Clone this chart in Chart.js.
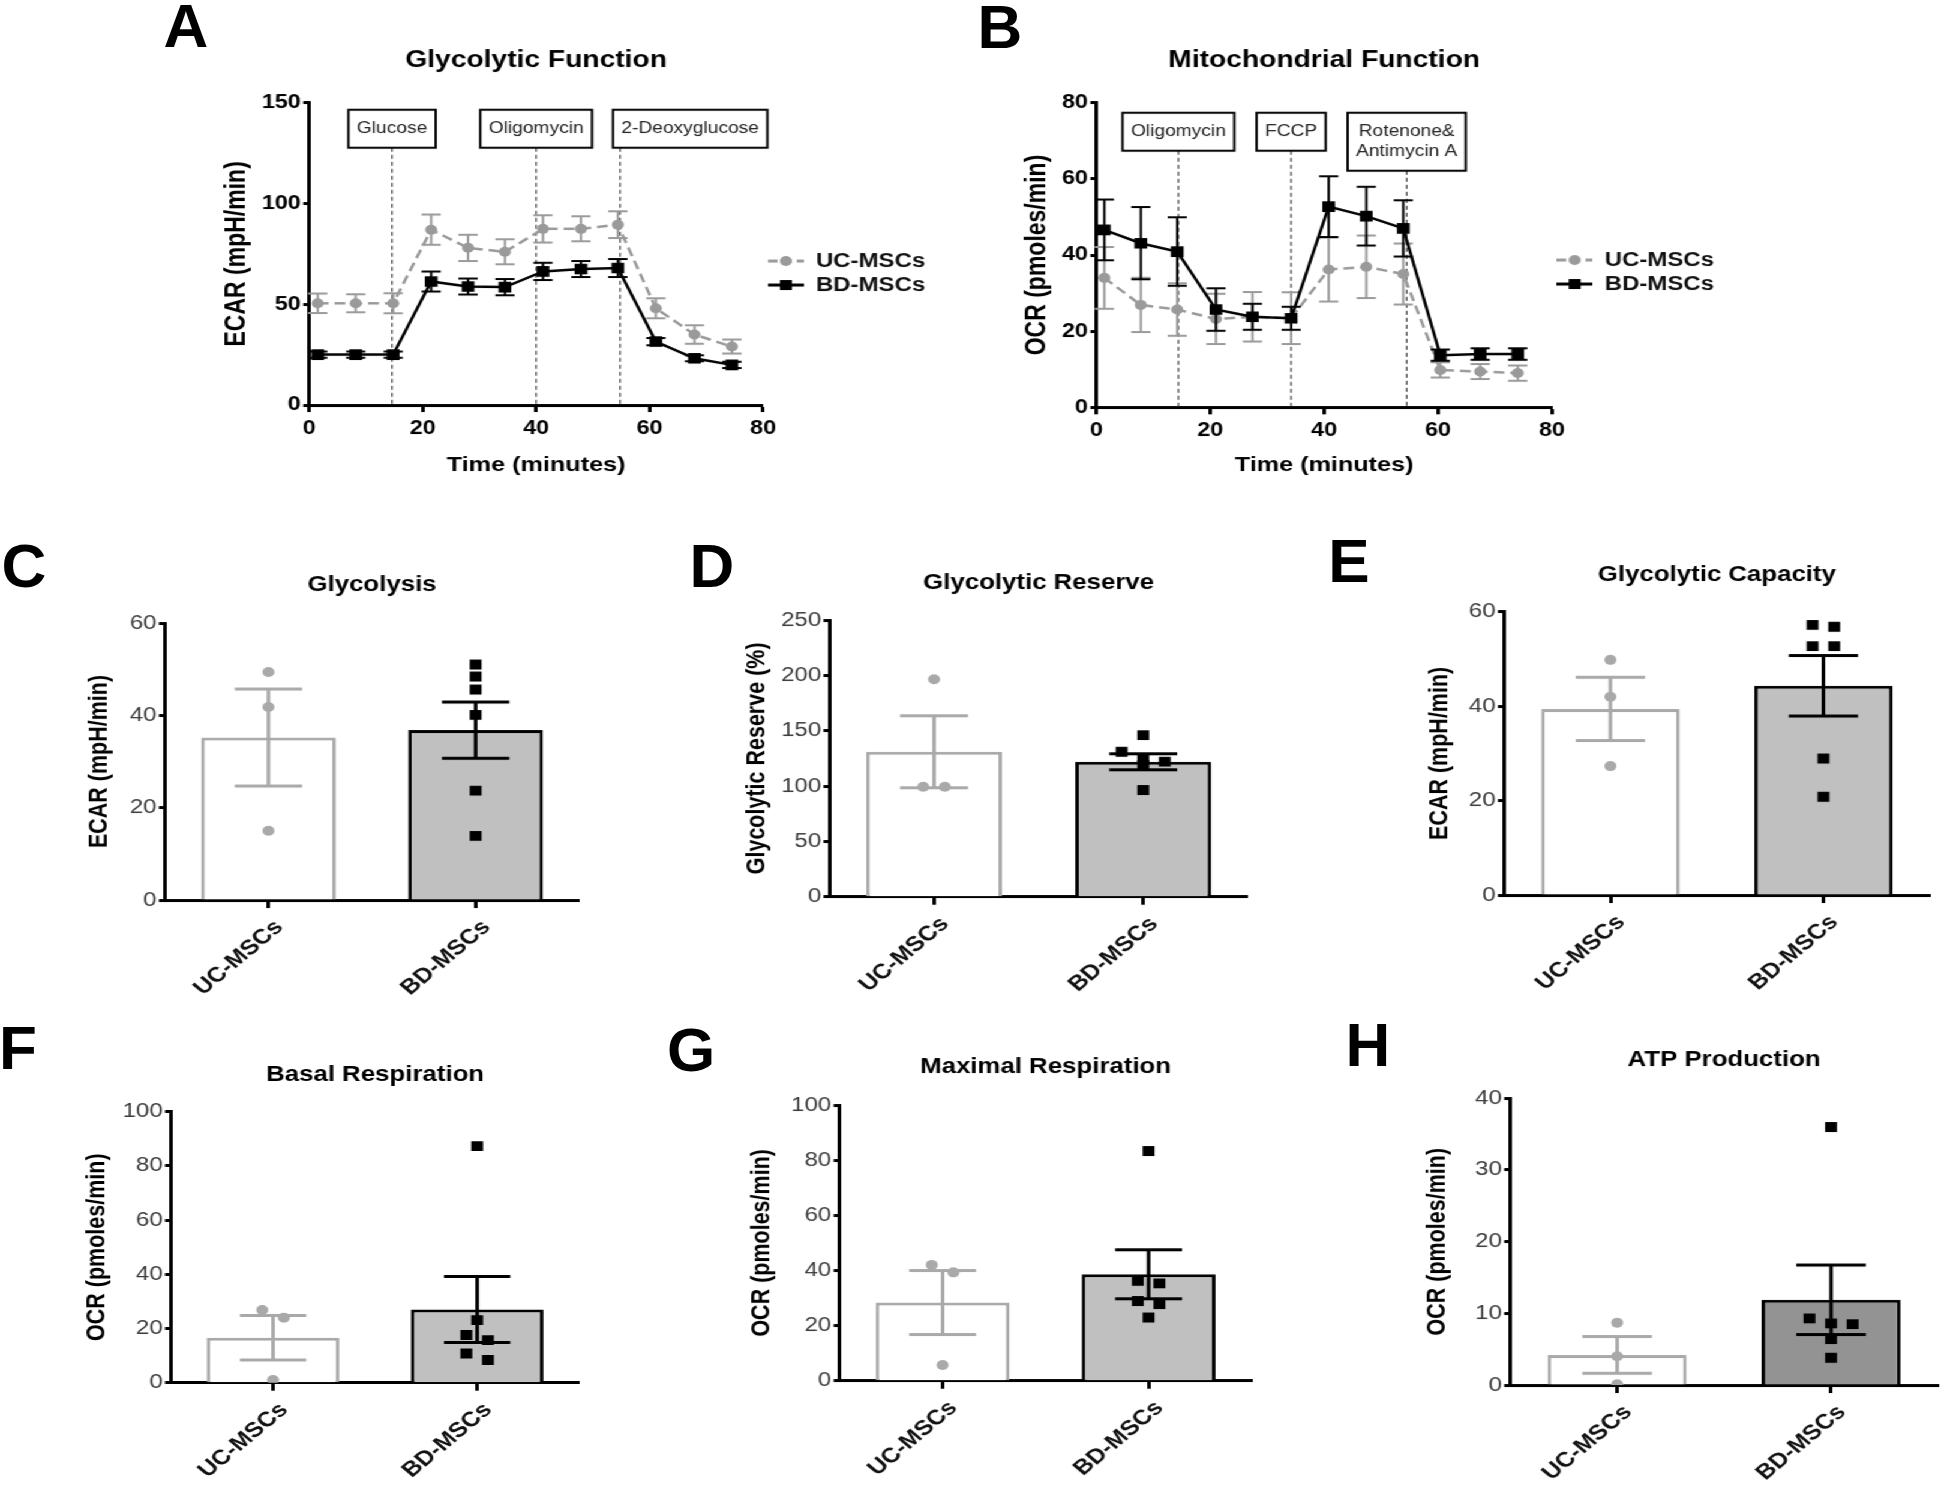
<!DOCTYPE html>
<html><head><meta charset="utf-8">
<script src="https://cdn.jsdelivr.net/npm/chart.js@4/dist/chart.umd.min.js"></script>
<style>
html,body{margin:0;padding:0;background:#fff;width:1948px;height:1494px;overflow:hidden;}
#stage{position:absolute;left:0;top:0;width:1624px;height:1494px;transform:scaleX(1.2);transform-origin:0 0;}
.letter{position:absolute;font:bold 62px "Liberation Sans",Arial,Helvetica,sans-serif;color:#000;line-height:1;transform:translate(-50%,-50%);}
</style></head><body><div id="stage"></div>
<script>
// ---------------- DATA ----------------
const categories = ['UC-MSCs', 'BD-MSCs'];
const seriesNames = ['UC-MSCs', 'BD-MSCs'];

// Panel A - Glycolytic Function (ECAR)
const timeA = [1.5, 8.2, 14.8, 21.5, 28.0, 34.5, 41.2, 47.9, 54.4, 61.1, 67.9, 74.5];
const ecarUC = [50.5, 50.5, 50.5, 87.0, 78.0, 76.0, 87.4, 87.4, 89.5, 48.0, 35.0, 29.0];
const ecarUCsem = [4.8, 4.5, 5.0, 7.5, 6.5, 6.2, 6.8, 6.2, 6.6, 5.0, 4.6, 3.5];
const ecarBD = [25.0, 25.0, 25.0, 61.3, 58.8, 58.5, 66.3, 67.5, 68.0, 31.5, 23.2, 19.9];
const ecarBDsem = [1.5, 1.5, 1.5, 5.0, 4.0, 4.0, 4.3, 4.0, 4.5, 1.8, 1.5, 1.5];
const injTimesA = [14.6, 40.0, 54.8];
const injLabelsA = ['Glucose', 'Oligomycin', '2-Deoxyglucose'];

// Panel B - Mitochondrial Function (OCR)
const timeB = [1.4, 7.8, 14.2, 21.0, 27.4, 34.2, 40.8, 47.4, 53.9, 60.4, 67.4, 74.0];
const ocrUC = [34.0, 26.9, 25.7, 23.2, 23.8, 23.4, 36.2, 36.9, 35.0, 9.8, 9.4, 9.0];
const ocrUCsem = [8.1, 7.1, 6.9, 6.6, 6.5, 6.8, 8.4, 8.2, 8.0, 2.0, 2.0, 2.0];
const ocrBD = [46.6, 43.1, 40.9, 25.7, 23.8, 23.4, 52.7, 50.2, 47.0, 13.7, 14.0, 14.0];
const ocrBDsem = [8.0, 9.5, 9.0, 5.6, 3.4, 3.0, 8.0, 7.7, 7.4, 1.5, 1.5, 1.5];
const injTimesB = [14.4, 34.2, 54.5];
const injLabelsB = ['Oligomycin', 'FCCP', ['Rotenone&', 'Antimycin A']];

// Panel C - Glycolysis
const glycolysisMean = [35.2, 36.8];
const glycolysisSem = [10.5, 6.1];
const glycolysisUC = [49.4, 41.8, 15.0];
const glycolysisBD = [51.0, 48.4, 45.6, 40.1, 23.7, 13.9];
// Panel D - Glycolytic Reserve
const reserveMean = [131, 122];
const reserveSem = [32.5, 7.2];
const reserveUC = [196.4, 99.4, 99.4];
const reserveBD = [146, 131, 124, 122, 119, 96.4];
// Panel E - Glycolytic Capacity
const capacityMean = [39.4, 44.3];
const capacitySem = [6.7, 6.4];
const capacityUC = [49.8, 42.0, 27.3];
const capacityBD = [57.2, 56.8, 52.7, 52.7, 28.9, 20.8];
// Panel F - Basal Respiration
const basalMean = [16.6, 27.0];
const basalSem = [8.2, 12.2];
const basalUC = [26.8, 24.0, 1.0];
const basalBD = [87.3, 23.1, 17.6, 15.7, 10.8, 8.4];
// Panel G - Maximal Respiration
const maximalMean = [28.4, 38.6];
const maximalSem = [11.6, 8.9];
const maximalUC = [42.0, 39.3, 5.7];
const maximalBD = [83.3, 36.2, 35.3, 28.9, 27.8, 22.9];
// Panel H - ATP Production
const atpMean = [4.2, 11.9];
const atpSem = [2.55, 4.85];
const atpUC = [8.7, 4.0, 0.1];
const atpBD = [36.0, 9.3, 8.6, 8.5, 6.4, 3.8];

// ---------------- LAYOUT ----------------
const S = 1.2; // the original figure is stretched horizontally
const FAM = '"Liberation Sans", Arial, Helvetica, sans-serif';
const stage = document.getElementById('stage');

const GEO = {
  A: {box:{x:190,y:20,w:790,h:470}, ca:{l:309.6,t:102.7,r:763.5,b:405}, titleY:61, titleFs:23.5, yTitleX:237, yTitleFs:23, xTitleY:465, xTitleFs:21, legendY:261},
  B: {box:{x:990,y:20,w:790,h:470}, ca:{l:1096.4,t:102.7,r:1551.9,b:407.3}, titleY:61, titleFs:23.5, yTitleX:1037, yTitleFs:23, xTitleY:465, xTitleFs:21, legendY:260},
  C: {box:{x:70,y:560,w:540,h:450}, ca:{l:165.3,t:623,r:579.6,b:900}, titleY:585, yTitleX:100},
  D: {box:{x:725,y:555,w:545,h:455}, ca:{l:829.7,t:620,r:1248,b:896.7}, titleY:583, yTitleX:758},
  E: {box:{x:1405,y:545,w:540,h:465}, ca:{l:1503.7,t:611.7,r:1929.7,b:895}, titleY:575, yTitleX:1440},
  F: {box:{x:70,y:1045,w:540,h:445}, ca:{l:171.4,t:1111.7,r:579.6,b:1382.7}, titleY:1075, yTitleX:98},
  G: {box:{x:730,y:1040,w:540,h:450}, ca:{l:840,t:1105,r:1252,b:1380.7}, titleY:1067, yTitleX:762},
  H: {box:{x:1405,y:1035,w:541,h:455}, ca:{l:1510,t:1098.3,r:1942.5,b:1385}, titleY:1060, yTitleX:1437.6}
};
// panel letters (not stretched, placed in page coordinates)
const LETTERS = [['A',186,26],['B',1000,27],['C',24,566],['D',712,566],['E',1349,561],['F',18,1048],['G',691,1050],['H',1368,1045]];
LETTERS.forEach(([t,x,y]) => {
  const d = document.createElement('div'); d.className='letter'; d.textContent=t;
  d.style.left = x+'px'; d.style.top = y+'px'; document.body.appendChild(d);
});

function layoutFor(g) {
  const bx = g.box.x / S, bw = Math.round(g.box.w / S);
  const titleFs = g.titleFs || 21.5, yTitleFs = g.yTitleFs || 21.5;
  const tLH = titleFs * 1.2, yLH = yTitleFs * 1.2;
  const r = {
    bx, bw, titleFs, yTitleFs,
    yAxisW: g.ca.l / S - bx,
    rightSpace: bx + bw - g.ca.r / S,
    xAxisH: g.box.y + g.box.h - g.ca.b,
    tPadTop: g.titleY - g.box.y - tLH / 2,
    yTitlePad: g.yTitleX / S - bx - yLH / 2
  };
  r.tPadBot = (g.ca.t - g.box.y) - tLH - r.tPadTop;
  if (g.xTitleY) { const xLH = g.xTitleFs * 1.2; r.xTitlePad = g.box.y + g.box.h - g.xTitleY - xLH / 2; }
  return r;
}
function makeCanvas(g, L) {
  const c = document.createElement('canvas');
  c.width = L.bw; c.height = g.box.h;
  c.style.position = 'absolute'; c.style.left = L.bx + 'px'; c.style.top = g.box.y + 'px';
  c.style.width = L.bw + 'px'; c.style.height = g.box.h + 'px';
  stage.appendChild(c);
  return c;
}

// ---------------- PLUGINS ----------------
const errorBars = {
  id: 'errorBars',
  afterDatasetDraw(chart, args) {
    const ds = chart.data.datasets[args.index];
    const eb = ds.errorBars; if (!eb) return;
    const ys = chart.scales.y, ctx = chart.ctx;
    ctx.save(); ctx.setLineDash([]); ctx.lineCap = 'butt';
    args.meta.data.forEach((el, i) => {
      const v = ds.data[i].y, e = eb.values[i];
      const col = Array.isArray(eb.color) ? eb.color[i] : eb.color;
      const cap = eb.capFrac ? el.width * eb.capFrac : eb.cap;
      const x = el.x, yt = ys.getPixelForValue(v + e), yb = ys.getPixelForValue(Math.max(v - e, 0));
      ctx.strokeStyle = col; ctx.lineWidth = eb.width;
      ctx.beginPath();
      ctx.moveTo(x, yt); ctx.lineTo(x, yb);
      ctx.moveTo(x - cap, yt); ctx.lineTo(x + cap, yt);
      ctx.moveTo(x - cap, yb); ctx.lineTo(x + cap, yb);
      ctx.stroke();
    });
    ctx.restore();
  }
};
const injections = {
  id: 'injections',
  beforeDatasetsDraw(chart, args, o) {
    if (!o || !o.times) return;
    const {ctx, chartArea: ca} = chart; const xs = chart.scales.x;
    ctx.save();
    ctx.font = o.fontSize + 'px ' + FAM;
    let prevRight = -Infinity;
    o.times.forEach((t, i) => {
      const x = xs.getPixelForValue(t);
      const lines = [].concat(o.labels[i]);
      const w = Math.max(...lines.map(s => ctx.measureText(s).width)) + 2 * o.padX;
      const h = o.lineH * lines.length + 2 * o.padY;
      let left = x - w / 2;
      if (left < prevRight + o.gap) left = Math.max(prevRight + o.gap, x - o.shift);
      const top = ca.top + o.top;
      ctx.strokeStyle = '#333'; ctx.lineWidth = 1.1; ctx.setLineDash([4, 3]);
      ctx.beginPath(); ctx.moveTo(x, top + h); ctx.lineTo(x, ca.bottom); ctx.stroke();
      ctx.setLineDash([]);
      ctx.fillStyle = '#fff'; ctx.fillRect(left, top, w, h);
      ctx.strokeStyle = '#000'; ctx.lineWidth = 2; ctx.strokeRect(left, top, w, h);
      ctx.fillStyle = '#222'; ctx.textAlign = 'center'; ctx.textBaseline = 'middle';
      lines.forEach((s, j) => ctx.fillText(s, left + w / 2, top + o.padY + o.lineH * (j + 0.5)));
      prevRight = left + w;
    });
    ctx.restore();
  }
};

function legendIcon(color, dashed, style) {
  const c = document.createElement('canvas'); c.width = 30; c.height = 14;
  const g = c.getContext('2d');
  g.strokeStyle = color; g.lineWidth = 3;
  if (dashed) g.setLineDash([8, 4]);
  g.beginPath(); g.moveTo(0, 7); g.lineTo(30, 7); g.stroke(); g.setLineDash([]);
  g.fillStyle = color;
  if (style === 'circle') { g.beginPath(); g.arc(15, 7, 5, 0, 2 * Math.PI); g.fill(); }
  else g.fillRect(10, 2, 10, 10);
  return c;
}

// ---------------- LINE PANELS (A, B) ----------------
function lineChart(g, o) {
  const L = layoutFor(g); const c = makeCanvas(g, L);
  const LFS = 20, LPAD = 4, LBOX = 30;
  const mctx = document.createElement('canvas').getContext('2d');
  mctx.font = 'bold ' + LFS + 'px ' + FAM;
  const textW = Math.max(...seriesNames.map(s => mctx.measureText(s).width));
  const LEGW = LPAD + LBOX + LFS / 2 + textW + 10;
  const icons = [legendIcon('#9a9a9a', true, 'circle'), legendIcon('#000', false, 'rect')];
  const legendTitlePad = (g.legendY - g.box.y - LPAD - LFS / 2) - 12 * 1.2;
  return new Chart(c, {
    type: 'line',
    data: { datasets: [
      { label: seriesNames[0], data: o.time.map((t, i) => ({x: t, y: o.uc[i]})), order: 1,
        borderColor: '#9a9a9a', backgroundColor: '#9a9a9a', borderWidth: 2.5, borderDash: [9, 5], tension: 0,
        pointStyle: 'circle', pointRadius: 5, pointBorderWidth: 0,
        errorBars: {values: o.ucSem, color: '#9a9a9a', width: 2, cap: 8} },
      { label: seriesNames[1], data: o.time.map((t, i) => ({x: t, y: o.bd[i]})), order: 0,
        borderColor: '#000', backgroundColor: '#000', borderWidth: 2.5, tension: 0,
        pointStyle: 'rect', pointRadius: 7.5, pointBorderWidth: 0,
        errorBars: {values: o.bdSem, color: '#000', width: 2, cap: 8} }
    ]},
    plugins: [errorBars, injections],
    options: {
      responsive: false, animation: false, events: [],
      layout: { padding: {left: 0, top: 0, bottom: 0, right: Math.max(0, L.rightSpace - LEGW)} },
      plugins: {
        tooltip: {enabled: false},
        title: {display: true, text: o.title, fullSize: false, color: '#000',
          font: {family: FAM, size: L.titleFs, weight: 'bold'}, padding: {top: L.tPadTop, bottom: L.tPadBot}},
        legend: { display: true, position: 'right', align: 'start',
          title: {display: true, text: '', font: {size: 12}, padding: {top: legendTitlePad, bottom: 0}},
          labels: { usePointStyle: true, pointStyleWidth: LBOX, padding: LPAD, color: '#111',
            font: {family: FAM, size: LFS, weight: 'bold'},
            generateLabels: (ch) => ch.data.datasets.map((ds, i) => ({text: ds.label, pointStyle: icons[i], datasetIndex: i, hidden: false, lineWidth: 0, fillStyle: ds.borderColor, strokeStyle: ds.borderColor, fontColor: '#111'})) } },
        injections: {times: o.injTimes, labels: o.injLabels, fontSize: 16, padX: 7, padY: 9, lineH: 20, gap: 8, shift: 6, top: o.boxTop}
      },
      scales: {
        x: { type: 'linear', min: 0, max: 80,
          afterFit: s => { s.height = L.xAxisH; },
          ticks: {stepSize: 20, color: '#000', padding: 5, font: {family: FAM, size: 19.5, weight: 'bold'}},
          grid: {display: true, drawOnChartArea: false, drawTicks: true, tickLength: 7, tickWidth: 3, tickColor: '#000'},
          border: {display: true, color: '#000', width: 3},
          title: {display: true, text: 'Time (minutes)', color: '#000', font: {family: FAM, size: g.xTitleFs, weight: 'bold'}, padding: {top: 0, bottom: L.xTitlePad}} },
        y: { min: 0, max: o.yMax,
          afterFit: s => { s.width = L.yAxisW; },
          ticks: {stepSize: o.yStep, color: '#000', padding: 2, font: {family: FAM, size: 19.5, weight: 'bold'}},
          grid: {display: true, drawOnChartArea: false, drawTicks: true, tickLength: 5, tickWidth: 3, tickColor: '#000'},
          border: {display: true, color: '#000', width: 3},
          title: {display: true, text: o.yTitle, color: '#000', font: {family: FAM, size: L.yTitleFs, weight: 'bold'}, padding: {top: L.yTitlePad, bottom: 0}} }
      }
    }
  });
}

lineChart(GEO.A, {time: timeA, uc: ecarUC, ucSem: ecarUCsem, bd: ecarBD, bdSem: ecarBDsem, yMax: 150, yStep: 50,
  title: 'Glycolytic Function', yTitle: 'ECAR (mpH/min)', injTimes: injTimesA, injLabels: injLabelsA, boxTop: 7});
lineChart(GEO.B, {time: timeB, uc: ocrUC, ucSem: ocrUCsem, bd: ocrBD, bdSem: ocrBDsem, yMax: 80, yStep: 20,
  title: 'Mitochondrial Function', yTitle: 'OCR (pmoles/min)', injTimes: injTimesB, injLabels: injLabelsB, boxTop: 10});

// ---------------- BAR PANELS (C - H) ----------------
function swarm(chart, dsIndex, center, values, spacingPx, thresholdPx) {
  const ys = chart.scales.y, xs = chart.scales.x;
  const cx = xs.getPixelForValue(center);
  const order = values.map((v, i) => i).sort((a, b) => values[b] - values[a]);
  const rows = [];
  order.forEach(i => {
    const py = ys.getPixelForValue(values[i]);
    const row = rows[rows.length - 1];
    if (row && Math.abs(py - row.py0) < thresholdPx) row.items.push(i);
    else rows.push({py0: py, items: [i]});
  });
  const out = values.map(v => ({x: center, y: v}));
  rows.forEach(r => {
    const k = r.items.length;
    r.items.forEach((i, j) => { out[i].x = xs.getValueForPixel(cx + (j - (k - 1) / 2) * spacingPx); });
  });
  chart.data.datasets[dsIndex].data = out;
}

function barChart(g, o) {
  const L = layoutFor(g); const c = makeCanvas(g, L);
  const ucCol = '#a9a9a9';
  const chart = new Chart(c, {
    type: 'bar',
    data: { datasets: [
      { type: 'bar', order: 1, data: o.means.map((m, i) => ({x: i, y: m})),
        backgroundColor: ['#ffffff', o.bdFill], borderColor: [ucCol, '#000'], borderWidth: 3,
        categoryPercentage: 0.65, barPercentage: 1,
        errorBars: {values: o.sems, color: [ucCol, '#000'], width: 3, capFrac: 0.25} },
      { type: 'scatter', order: 0, data: o.uc.map(v => ({x: 0, y: v})), pointStyle: 'circle', pointRadius: 5,
        backgroundColor: ucCol, borderColor: ucCol, borderWidth: 0 },
      { type: 'scatter', order: 0, data: o.bd.map(v => ({x: 1, y: v})), pointStyle: 'rect', pointRadius: 7,
        backgroundColor: '#000', borderColor: '#000', borderWidth: 0 }
    ]},
    plugins: [errorBars],
    options: {
      responsive: false, animation: false, events: [],
      layout: { padding: {left: 0, top: 0, bottom: 0, right: L.rightSpace} },
      plugins: {
        legend: {display: false}, tooltip: {enabled: false},
        title: {display: true, text: o.title, fullSize: false, color: '#000',
          font: {family: FAM, size: L.titleFs, weight: 'bold'}, padding: {top: L.tPadTop, bottom: L.tPadBot}}
      },
      scales: {
        x: { type: 'linear', min: -0.5, max: 1.5, offset: false,
          afterBuildTicks: s => { s.ticks = [{value: 0}, {value: 1}]; },
          afterFit: s => { s.height = L.xAxisH; },
          ticks: {autoSkip: false, minRotation: 45, maxRotation: 45, padding: 7, labelOffset: 9, color: '#111',
            font: {family: FAM, size: 21, weight: 'bold'}, callback: v => categories[v]},
          grid: {display: true, offset: false, drawOnChartArea: false, drawTicks: true, tickLength: 8, tickWidth: 3, tickColor: '#000'},
          border: {display: true, color: '#000', width: 3} },
        y: { min: 0, max: o.yMax,
          afterFit: s => { s.width = L.yAxisW; },
          ticks: {stepSize: o.yStep, color: '#3c3c3c', padding: 2, font: {family: FAM, size: 20}},
          grid: {display: true, drawOnChartArea: false, drawTicks: true, tickLength: 5, tickWidth: 3, tickColor: '#000'},
          border: {display: true, color: '#000', width: 3},
          title: {display: true, text: o.yTitle, color: '#000', font: {family: FAM, size: L.yTitleFs, weight: 'bold'}, padding: {top: L.yTitlePad, bottom: 0}} }
      }
    }
  });
  swarm(chart, 1, 0, o.uc, 18, 12);
  swarm(chart, 2, 1, o.bd, 18, 12);
  chart.update('none');
  return chart;
}

const ECAR = 'ECAR (mpH/min)', OCR = 'OCR (pmoles/min)';
barChart(GEO.C, {means: glycolysisMean, sems: glycolysisSem, uc: glycolysisUC, bd: glycolysisBD, yMax: 60, yStep: 20, title: 'Glycolysis', yTitle: ECAR, bdFill: '#c0c0c0'});
barChart(GEO.D, {means: reserveMean, sems: reserveSem, uc: reserveUC, bd: reserveBD, yMax: 250, yStep: 50, title: 'Glycolytic Reserve', yTitle: 'Glycolytic Reserve (%)', bdFill: '#c0c0c0'});
barChart(GEO.E, {means: capacityMean, sems: capacitySem, uc: capacityUC, bd: capacityBD, yMax: 60, yStep: 20, title: 'Glycolytic Capacity', yTitle: ECAR, bdFill: '#c0c0c0'});
barChart(GEO.F, {means: basalMean, sems: basalSem, uc: basalUC, bd: basalBD, yMax: 100, yStep: 20, title: 'Basal Respiration', yTitle: OCR, bdFill: '#c0c0c0'});
barChart(GEO.G, {means: maximalMean, sems: maximalSem, uc: maximalUC, bd: maximalBD, yMax: 100, yStep: 20, title: 'Maximal Respiration', yTitle: OCR, bdFill: '#c0c0c0'});
barChart(GEO.H, {means: atpMean, sems: atpSem, uc: atpUC, bd: atpBD, yMax: 40, yStep: 10, title: 'ATP Production', yTitle: OCR, bdFill: '#939393'});
</script>
</body></html>
